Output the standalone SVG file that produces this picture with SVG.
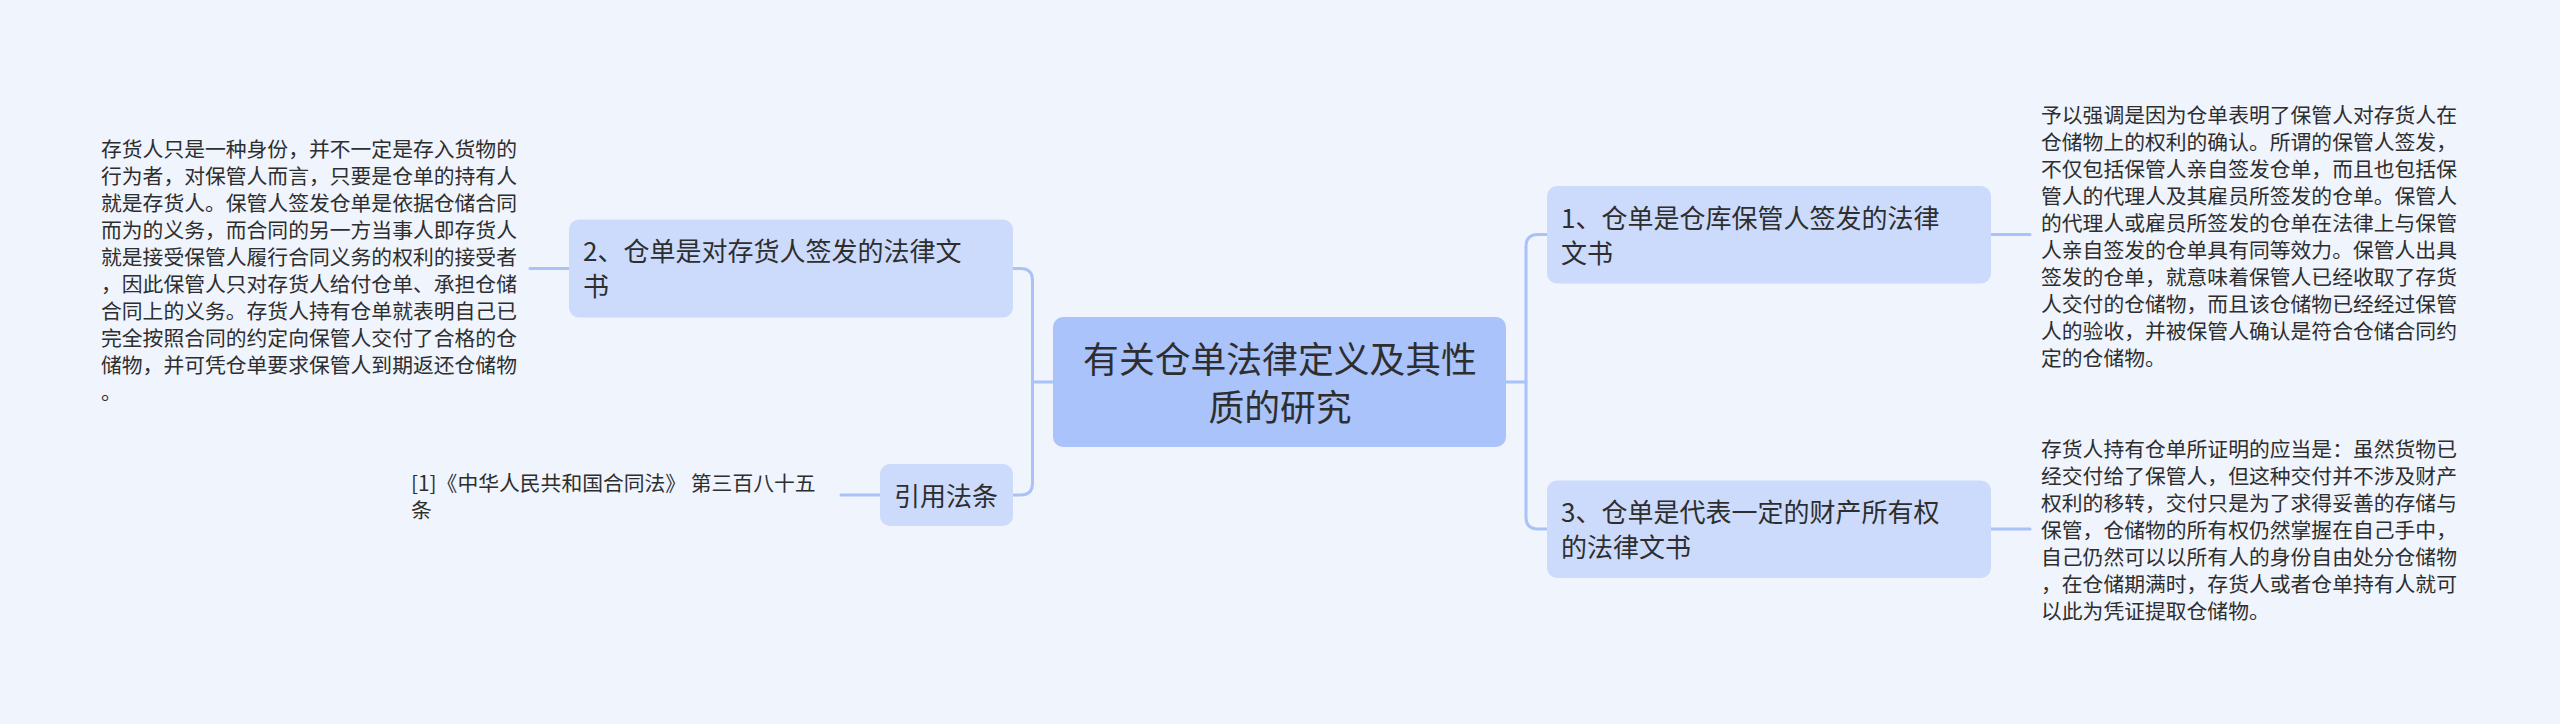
<svg xmlns="http://www.w3.org/2000/svg" width="2560" height="724" viewBox="0 0 2560 724">
<style>
.bg{fill:#eff4fd}
.root{fill:#aac3fa}
.node{fill:#ccdbfc}
.t{font-family:"Noto Sans CJK SC","Noto Sans",sans-serif;fill:#2e2e2e}
.rt{font-size:35.8px;text-anchor:middle}
.nt{font-size:26px}
.lt{font-size:20.8px}
.conn{fill:none;stroke:#aac2f6;stroke-width:3;stroke-linecap:round}
</style>
<rect class="bg" x="0" y="0" width="2560" height="724"/>
<g id="connectors">
<path class="conn" d="M1053,382 H1032.5"/>
<path class="conn" d="M1013,268.5 H1020.5 Q1032.5,268.5 1032.5,280.5 V483 Q1032.5,495 1020.5,495 H1013"/>
<path class="conn" d="M1506,382 H1526"/>
<path class="conn" d="M1547,234.5 H1538 Q1526,234.5 1526,246.5 V517 Q1526,529 1538,529 H1547"/>
<path class="conn" d="M569,268.5 H530"/>
<path class="conn" d="M880,495 H841"/>
<path class="conn" d="M1991,234.5 H2030"/>
<path class="conn" d="M1991,529 H2030"/>
</g>
<g id="root">
<rect class="root" x="1053" y="317" width="453" height="130" rx="10"/>
<text class="t rt" x="1280" y="373">有关仓单法律定义及其性</text>
<text class="t rt" x="1280" y="421">质的研究</text>
</g>
<g id="node2">
<rect class="node" x="569" y="219.5" width="444" height="98" rx="10"/>
<text class="t nt" x="583" y="261">2、仓单是对存货人签发的法律文</text>
<text class="t nt" x="583" y="296">书</text>
</g>
<g id="node-cite">
<rect class="node" x="880" y="464" width="133" height="62" rx="10"/>
<text class="t nt" x="894" y="506">引用法条</text>
</g>
<g id="node1">
<rect class="node" x="1547" y="186" width="444" height="97.5" rx="10"/>
<text class="t nt" x="1561" y="227.5">1、仓单是仓库保管人签发的法律</text>
<text class="t nt" x="1561" y="262.5">文书</text>
</g>
<g id="node3">
<rect class="node" x="1547" y="480.5" width="444" height="97.5" rx="10"/>
<text class="t nt" x="1561" y="522">3、仓单是代表一定的财产所有权</text>
<text class="t nt" x="1561" y="557">的法律文书</text>
</g>
<g id="leaf2">
<text class="t lt" x="101" y="156.5">存货人只是一种身份，并不一定是存入货物的</text>
<text class="t lt" x="101" y="183.5">行为者，对保管人而言，只要是仓单的持有人</text>
<text class="t lt" x="101" y="210.5">就是存货人。保管人签发仓单是依据仓储合同</text>
<text class="t lt" x="101" y="237.5">而为的义务，而合同的另一方当事人即存货人</text>
<text class="t lt" x="101" y="264.5">就是接受保管人履行合同义务的权利的接受者</text>
<text class="t lt" x="101" y="291.5">，因此保管人只对存货人给付仓单、承担仓储</text>
<text class="t lt" x="101" y="318.5">合同上的义务。存货人持有仓单就表明自己已</text>
<text class="t lt" x="101" y="345.5">完全按照合同的约定向保管人交付了合格的仓</text>
<text class="t lt" x="101" y="372.5">储物，并可凭仓单要求保管人到期返还仓储物</text>
<text class="t lt" x="101" y="399.5">。</text>
</g>
<g id="leaf-cite">
<text class="t lt" x="411" y="491">[1]《中华人民共和国合同法》 第三百八十五</text>
<text class="t lt" x="411" y="518">条</text>
</g>
<g id="leaf1">
<text class="t lt" x="2041" y="122.5">予以强调是因为仓单表明了保管人对存货人在</text>
<text class="t lt" x="2041" y="149.5">仓储物上的权利的确认。所谓的保管人签发，</text>
<text class="t lt" x="2041" y="176.5">不仅包括保管人亲自签发仓单，而且也包括保</text>
<text class="t lt" x="2041" y="203.5">管人的代理人及其雇员所签发的仓单。保管人</text>
<text class="t lt" x="2041" y="230.5">的代理人或雇员所签发的仓单在法律上与保管</text>
<text class="t lt" x="2041" y="257.5">人亲自签发的仓单具有同等效力。保管人出具</text>
<text class="t lt" x="2041" y="284.5">签发的仓单，就意味着保管人已经收取了存货</text>
<text class="t lt" x="2041" y="311.5">人交付的仓储物，而且该仓储物已经经过保管</text>
<text class="t lt" x="2041" y="338.5">人的验收，并被保管人确认是符合仓储合同约</text>
<text class="t lt" x="2041" y="365.5">定的仓储物。</text>
</g>
<g id="leaf3">
<text class="t lt" x="2041" y="456.5">存货人持有仓单所证明的应当是：虽然货物已</text>
<text class="t lt" x="2041" y="483.5">经交付给了保管人，但这种交付并不涉及财产</text>
<text class="t lt" x="2041" y="510.5">权利的移转，交付只是为了求得妥善的存储与</text>
<text class="t lt" x="2041" y="537.5">保管，仓储物的所有权仍然掌握在自己手中，</text>
<text class="t lt" x="2041" y="564.5">自己仍然可以以所有人的身份自由处分仓储物</text>
<text class="t lt" x="2041" y="591.5">，在仓储期满时，存货人或者仓单持有人就可</text>
<text class="t lt" x="2041" y="618.5">以此为凭证提取仓储物。</text>
</g>
</svg>
